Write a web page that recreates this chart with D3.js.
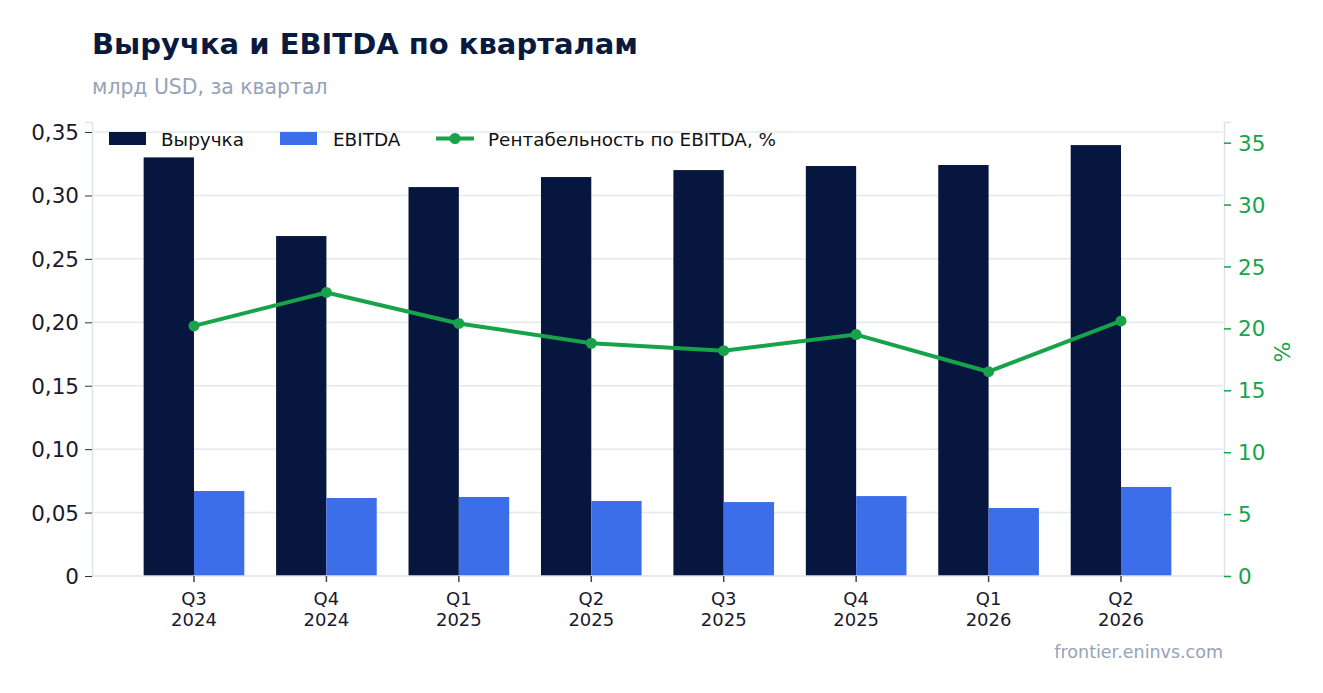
<!DOCTYPE html>
<html>
<head>
<meta charset="utf-8">
<script src="https://cdn.jsdelivr.net/npm/d3@7"></script>
<style>
  body { margin: 0; background: #fff; }
  svg text { font-family: "DejaVu Sans", sans-serif; }
</style>
</head>
<body>
<div id="chart"></div>
<script>
// Data
const quarters = ["Q3", "Q4", "Q1", "Q2", "Q3", "Q4", "Q1", "Q2"];
const years = ["2024", "2024", "2025", "2025", "2025", "2025", "2026", "2026"];
const revenue = [0.330, 0.268, 0.3066, 0.3145, 0.320, 0.3232, 0.324, 0.3397];
const ebitda = [0.067, 0.0615, 0.0623, 0.0591, 0.0583, 0.063, 0.0536, 0.0702];
const margin = [20.2, 22.9, 20.4, 18.8, 18.2, 19.5, 16.5, 20.6];
const leftTicks = [0, 0.05, 0.10, 0.15, 0.20, 0.25, 0.30, 0.35];
const rightTicks = [0, 5, 10, 15, 20, 25, 30, 35];

const W = 1323, H = 693;
const plotL = 92, plotR = 1223, plotT = 122, plotB = 576;

const navy = "#06163f", blue = "#3b6ee8", green = "#16a34a";
const grid = "#e4e8ef", spine = "#dfe4ec";

const svg = d3.select("#chart").append("svg")
  .attr("width", W)
  .attr("height", H);

const keys = quarters.map((q, i) => i);

const x = d3.scaleBand()
  .domain(keys)
  .range([plotL, plotR])
  .paddingInner(0)
  .paddingOuter(0.27);

const y = d3.scaleLinear().domain([0, 0.3579]).range([plotB, plotT]);
const y2 = d3.scaleLinear().domain([0, 36.67]).range([plotB, plotT]);

const barW = x.step() * 0.38;
const cx = i => x(i) + x.bandwidth() / 2;

// Grid lines
svg.append("g")
  .selectAll("line")
  .data(leftTicks.slice(1))
  .enter().append("line")
  .attr("x1", plotL)
  .attr("x2", plotR)
  .attr("y1", d => y(d))
  .attr("y2", d => y(d))
  .attr("stroke", grid)
  .attr("stroke-width", 1.5);

// Bars
svg.append("g")
  .selectAll("rect")
  .data(revenue)
  .enter().append("rect")
  .attr("x", (d, i) => cx(i) - barW)
  .attr("y", d => y(d))
  .attr("width", barW)
  .attr("height", d => plotB - y(d))
  .attr("fill", navy);

svg.append("g")
  .selectAll("rect")
  .data(ebitda)
  .enter().append("rect")
  .attr("x", (d, i) => cx(i))
  .attr("y", d => y(d))
  .attr("width", barW)
  .attr("height", d => plotB - y(d))
  .attr("fill", blue);

// Left axis
const yAxis = svg.append("g")
  .attr("transform", `translate(${plotL},0)`)
  .call(d3.axisLeft(y)
    .tickValues(leftTicks)
    .tickSize(7)
    .tickPadding(6)
    .tickFormat(d => d === 0 ? "0" : d3.format(".2f")(d).replace(".", ",")));
yAxis.select(".domain").attr("stroke", spine).attr("stroke-width", 1.5);
yAxis.selectAll(".tick line").attr("stroke", "#333");
yAxis.selectAll(".tick text")
  .attr("font-size", 21.5)
  .attr("fill", "#1a1a2e")
  .attr("dy", "0.35em");

// Right axis
const y2Axis = svg.append("g")
  .attr("transform", `translate(${plotR + 1},0)`)
  .call(d3.axisRight(y2)
    .tickValues(rightTicks)
    .tickSize(7)
    .tickPadding(7));
y2Axis.select(".domain").attr("stroke", spine).attr("stroke-width", 1.5);
y2Axis.selectAll(".tick line").attr("stroke", green).attr("stroke-width", 1.5);
y2Axis.selectAll(".tick text")
  .attr("font-size", 21.5)
  .attr("fill", green)
  .attr("dy", "0.35em");

svg.append("text")
  .attr("transform", `translate(1290,${(plotT + plotB) / 2 + 3}) rotate(-90)`)
  .attr("text-anchor", "middle")
  .attr("font-size", 22)
  .attr("fill", green)
  .text("%");

// Bottom axis
svg.append("line")
  .attr("x1", plotL)
  .attr("x2", plotR + 1)
  .attr("y1", plotB)
  .attr("y2", plotB)
  .attr("stroke", spine)
  .attr("stroke-width", 1.5);

const xg = svg.append("g");
keys.forEach(i => {
  xg.append("line")
    .attr("x1", cx(i)).attr("x2", cx(i))
    .attr("y1", plotB).attr("y2", plotB + 6)
    .attr("stroke", "#444")
    .attr("stroke-width", 1.5);
  const t = xg.append("text")
    .attr("x", cx(i))
    .attr("text-anchor", "middle")
    .attr("font-size", 18)
    .attr("fill", "#1a1a2e");
  t.append("tspan").attr("x", cx(i)).attr("y", 605).text(quarters[i]);
  t.append("tspan").attr("x", cx(i)).attr("y", 626).text(years[i]);
});

// Margin line
const line = d3.line()
  .x((d, i) => cx(i))
  .y(d => y2(d));

svg.append("path")
  .datum(margin)
  .attr("d", line)
  .attr("fill", "none")
  .attr("stroke", green)
  .attr("stroke-width", 4)
  .attr("stroke-linejoin", "round");

svg.append("g")
  .selectAll("circle")
  .data(margin)
  .enter().append("circle")
  .attr("cx", (d, i) => cx(i))
  .attr("cy", d => y2(d))
  .attr("r", 5.5)
  .attr("fill", green);

// Legend
const lg = svg.append("g").attr("font-size", 18.4).attr("fill", "#111");
lg.append("rect").attr("x", 109).attr("y", 132).attr("width", 37).attr("height", 13).attr("fill", navy);
lg.append("text").attr("x", 161).attr("y", 145.5).text("Выручка");
lg.append("rect").attr("x", 280).attr("y", 132).attr("width", 37).attr("height", 13).attr("fill", blue);
lg.append("text").attr("x", 333).attr("y", 145.5).text("EBITDA");
lg.append("line").attr("x1", 436).attr("x2", 474).attr("y1", 138.5).attr("y2", 138.5)
  .attr("stroke", green).attr("stroke-width", 4);
lg.append("circle").attr("cx", 455).attr("cy", 138.5).attr("r", 5.5).attr("fill", green);
lg.append("text").attr("x", 488).attr("y", 145.5).text("Рентабельность по EBITDA, %");

// Titles
svg.append("text")
  .attr("x", 92)
  .attr("y", 54)
  .attr("font-size", 29)
  .attr("font-weight", "bold")
  .attr("fill", "#0a1a3f")
  .text("Выручка и EBITDA по кварталам");

svg.append("text")
  .attr("x", 92)
  .attr("y", 94)
  .attr("font-size", 20.4)
  .attr("fill", "#94a3b8")
  .text("млрд USD, за квартал");

svg.append("text")
  .attr("x", 1223)
  .attr("y", 658)
  .attr("text-anchor", "end")
  .attr("font-size", 17.5)
  .attr("fill", "#94a3b8")
  .text("frontier.eninvs.com");
</script>
</body>
</html>
